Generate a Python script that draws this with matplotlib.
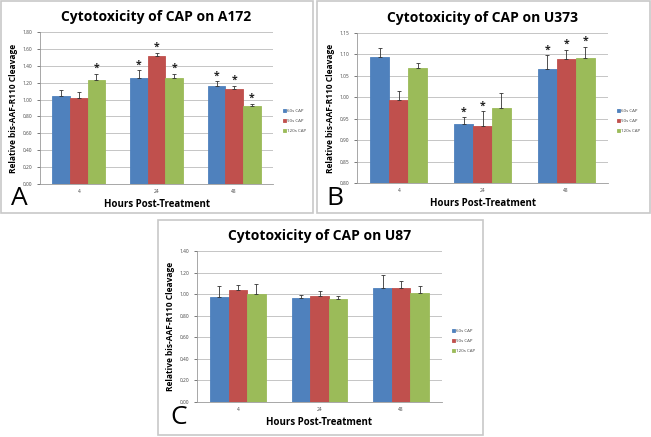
import numpy as np
import matplotlib
matplotlib.use('Agg')
import matplotlib.pyplot as plt
from matplotlib.patches import Rectangle

W, H = 651, 437

hours = ['4', '24', '48']
series_names = ['60s CAP', '90s CAP', '120s CAP']
colors = ['#4F81BD', '#C0504D', '#9BBB59']

# A172
a172_60 = [1.04, 1.25, 1.16]
a172_90 = [1.02, 1.51, 1.12]
a172_120 = [1.23, 1.25, 0.92]
a172_60_err = [0.07, 0.095, 0.055]
a172_90_err = [0.07, 0.045, 0.045]
a172_120_err = [0.07, 0.055, 0.03]
a172_60_star = [False, True, True]
a172_90_star = [False, True, True]
a172_120_star = [True, True, True]

# U373
u373_60 = [1.094, 0.938, 1.065]
u373_90 = [0.994, 0.932, 1.089]
u373_120 = [1.068, 0.975, 1.091]
u373_60_err = [0.02, 0.015, 0.033]
u373_90_err = [0.02, 0.035, 0.021]
u373_120_err = [0.013, 0.035, 0.026]
u373_60_star = [False, True, True]
u373_90_star = [False, True, True]
u373_120_star = [False, False, True]

# U87
u87_60 = [0.976, 0.960, 1.056]
u87_90 = [1.034, 0.979, 1.056]
u87_120 = [0.997, 0.951, 1.010]
u87_60_err = [0.10, 0.028, 0.118]
u87_90_err = [0.05, 0.052, 0.068]
u87_120_err = [0.095, 0.034, 0.065]
no_star = [False, False, False]

plt.rcParams['font.family'] = ['Open Sans', 'DejaVu Sans']

fig = plt.figure(figsize=(W / 100, H / 100), dpi=100)


def px_box(x0, y0, x1, y1):
    # pixel box (top-left origin) -> figure fraction
    return [x0 / W, 1 - y1 / H, (x1 - x0) / W, (y1 - y0) / H]


def panel(frame, axbox, title, means, errs, stars, ylim, yticks, letter, letter_xy, leg_xy):
    fx0, fy0, fx1, fy1 = frame
    fig.patches.append(Rectangle((fx0 / W, 1 - fy1 / H), (fx1 - fx0) / W, (fy1 - fy0) / H,
                                 transform=fig.transFigure, fill=False,
                                 edgecolor='#c8c8c8', linewidth=1.2))
    ax = fig.add_axes(px_box(*axbox))
    x = np.arange(len(hours))
    bw = 0.227
    for i in range(3):
        pos = x + (i - 1) * bw
        ax.bar(pos, means[i], bw, color=colors[i], edgecolor=colors[i], linewidth=0.6,
               label=series_names[i], zorder=3)
        ax.errorbar(pos, means[i], yerr=[np.zeros(3), errs[i]], fmt='none',
                    ecolor='#333333', elinewidth=0.6, capsize=1.5, capthick=0.6, zorder=4)
        for j in range(3):
            if stars[i][j]:
                ax.annotate('*', (pos[j], means[i][j] + errs[i][j]), xytext=(0, 0),
                            textcoords='offset points', ha='center', va='bottom',
                            fontsize=7.5, fontweight='bold', color='#222222')
    ax.set_xlim(-0.5, 2.5)
    ax.set_ylim(*ylim)
    ax.set_yticks(yticks)
    ax.set_yticklabels(['%.2f' % t for t in yticks])
    ax.set_xticks(x)
    ax.set_xticklabels(hours)
    ax.tick_params(axis='both', labelsize=3.5, colors='#444444', length=2, width=0.5)
    ax.tick_params(axis='x', length=0)
    ax.yaxis.grid(True, color='#bbbbbb', linewidth=0.6, zorder=0)
    for s in ['top', 'right']:
        ax.spines[s].set_visible(False)
    for s in ['left', 'bottom']:
        ax.spines[s].set_color('#999999')
        ax.spines[s].set_linewidth(0.6)
    ax.set_axisbelow(True)
    ax.set_title(title, fontsize=10, fontweight='bold', pad=8)
    ax.set_xlabel('Hours Post-Treatment', fontsize=7, fontweight='bold', labelpad=4)
    ax.set_ylabel('Relative bis-AAF-R110 Cleavage', fontsize=6, fontweight='bold', labelpad=3)
    fig.text(letter_xy[0] / W, 1 - letter_xy[1] / H, letter, fontsize=19,
             ha='left', va='baseline', color='black')
    ax.legend(loc='center left', bbox_to_anchor=(leg_xy[0] / W, 1 - leg_xy[1] / H),
              bbox_transform=fig.transFigure, frameon=False, fontsize=3.2,
              handlelength=0.6, handleheight=0.6, handletextpad=0.3, labelspacing=1.4,
              borderpad=0, labelcolor='#444444')
    return ax


panel((1, 1, 313, 213), (40, 32, 273, 184), 'Cytotoxicity of CAP on A172',
      [a172_60, a172_90, a172_120], [a172_60_err, a172_90_err, a172_120_err],
      [a172_60_star, a172_90_star, a172_120_star],
      (0, 1.8), np.arange(0, 1.81, 0.2), 'A', (11, 205), (281, 121))

panel((317, 1, 650, 213), (357, 33, 608, 183), 'Cytotoxicity of CAP on U373',
      [u373_60, u373_90, u373_120], [u373_60_err, u373_90_err, u373_120_err],
      [u373_60_star, u373_90_star, u373_120_star],
      (0.8, 1.15), np.arange(0.8, 1.151, 0.05), 'B', (326, 205), (615, 121))

panel((158, 220, 483, 435), (197, 251, 442, 402), 'Cytotoxicity of CAP on U87',
      [u87_60, u87_90, u87_120], [u87_60_err, u87_90_err, u87_120_err],
      [no_star, no_star, no_star],
      (0, 1.4), np.arange(0, 1.41, 0.2), 'C', (170, 424), (450, 341))

fig.savefig('out.png', dpi=100)
